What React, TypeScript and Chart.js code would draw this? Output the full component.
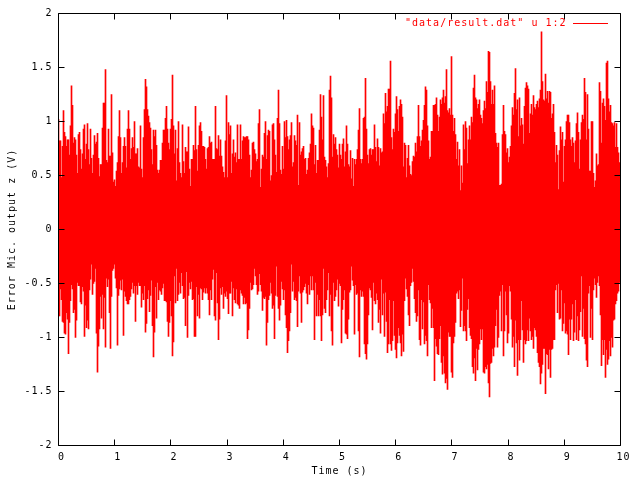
import React, { useEffect, useRef } from "react";
import { Chart, registerables } from "chart.js";

Chart.register(...registerables);

// ---- chart text ----
const SERIES_LABEL = '"data/result.dat" u 1:2';
const X_TITLE = "Time (s)";
const Y_TITLE = "Error Mic. output z (V)";

// ---- axes ----
const T_START = 0;
const T_END = 10;
const X_TICK_STEP = 1;
const Y_MIN = -2;
const Y_MAX = 2;
const Y_TICK_STEP = 0.5;

// ---- signal: per-column maximum (V), left to right ----
const UPPER = [
  1.02, 0.82, 0.82, 0.48, 0.77,
  1.10, 0.90, 0.86, 0.77, 0.83, 0.83, 0.69, 0.96, 1.33, 1.15,
  0.80, 0.85, 0.83, 0.69, 0.52, 0.88, 0.90, 0.74, 0.56, 0.70,
  0.93, 0.97, 0.65, 0.79, 0.98, 0.74, 0.60, 0.93, 0.66, 0.52,
  0.69, 0.87, 0.79, 0.81, 0.89, 0.66, 0.49, 0.60, 0.60, 0.94,
  1.17, 1.17, 1.48, 0.64, 0.62, 0.93, 0.68, 0.68, 1.25, 0.71,
  0.44, 0.46, 0.40, 0.54, 0.62, 0.86, 1.10, 0.85, 0.52, 0.62,
  0.77, 0.85, 0.77, 0.57, 0.93, 1.10, 0.93, 0.65, 0.75, 0.85,
  0.76, 1.00, 0.70, 0.70, 0.75, 0.58, 0.57, 0.96, 0.56, 0.48,
  0.85, 1.11, 1.39, 1.32, 1.11, 1.05, 0.99, 0.94, 0.74, 0.60,
  0.92, 0.86, 0.92, 0.78, 0.55, 0.52, 0.55, 0.64, 0.64, 0.80,
  0.92, 0.92, 1.03, 1.14, 0.93, 0.80, 0.74, 0.93, 1.02, 1.43,
  0.96, 0.70, 0.92, 0.45, 0.75, 1.00, 0.62, 0.52, 0.48, 0.97,
  0.63, 0.52, 0.76, 0.72, 0.72, 0.95, 0.56, 0.40, 0.65, 0.65,
  0.78, 0.73, 1.14, 0.74, 0.54, 0.78, 0.96, 0.99, 0.91, 0.77,
  0.77, 0.76, 0.65, 0.56, 0.75, 0.76, 0.86, 0.80, 0.81, 0.65,
  0.65, 0.65, 1.14, 0.75, 0.74, 0.87, 0.68, 0.83, 0.68, 0.58,
  0.53, 0.48, 0.82, 1.24, 0.48, 0.99, 0.88, 0.96, 0.52, 0.70,
  0.83, 0.67, 0.71, 0.62, 0.97, 0.65, 0.65, 0.97, 0.65, 0.82,
  0.86, 0.85, 0.85,
  0.86, 0.86, 0.83, 0.69, 0.48, 0.55, 0.80, 0.81, 0.74, 0.70,
  0.63, 0.65, 0.98, 1.11, 0.39, 0.56, 0.69, 0.67, 0.89, 1.00,
  0.65, 0.87, 0.92, 0.91, 0.45, 0.50, 0.97, 0.98, 0.83, 0.69,
  0.53, 1.03, 1.29, 0.98, 0.55, 0.51, 0.77, 0.56, 1.00, 0.85,
  1.01, 0.86, 0.74, 0.83, 0.87, 0.99, 0.58, 0.62, 0.87, 0.82,
  0.78, 1.06, 0.41, 0.99, 0.69, 0.72, 0.75, 0.77, 0.65, 0.66,
  0.51, 0.55, 0.66, 0.71, 0.79, 1.07, 0.96, 0.94, 0.60, 0.78,
  0.52, 0.64, 0.64, 0.92, 1.25, 1.04, 0.83, 1.24, 0.67, 0.64,
  0.58, 0.48, 0.61, 1.29, 1.42, 1.22, 0.67, 0.88, 0.79, 0.85,
  0.74, 0.69, 0.57, 0.79, 0.69, 0.65, 0.79, 0.84, 0.58, 0.72,
  0.96, 0.79, 0.60, 0.58, 0.73, 0.47, 0.66, 0.40, 0.65, 0.60,
  0.65, 0.74, 0.92, 1.12, 0.65, 0.61, 0.65, 1.03, 1.04, 1.40,
  0.93, 0.69, 0.61, 0.74, 0.75, 0.69, 0.74, 0.74, 0.97, 0.76,
  0.63, 0.84, 0.76, 0.59, 0.75, 0.71, 0.72, 1.07, 0.98, 1.26,
  1.09, 1.14, 1.30, 1.30, 1.56, 0.85, 0.74, 0.93, 0.90, 1.07,
  1.23, 1.11, 0.91, 1.14, 1.20, 1.16, 1.04, 0.58, 0.80, 0.78,
  0.48, 0.66, 0.78, 0.59, 0.51, 0.50, 0.63, 0.68, 0.67, 0.80,
  0.72, 0.86, 1.15, 0.86, 0.77, 0.82, 0.92, 1.01, 1.15, 1.32,
  1.29, 0.96, 0.82, 0.65, 0.67, 0.91, 0.91, 1.15,
  1.15, 1.16, 1.22, 1.06, 0.91, 1.04, 1.20, 1.16, 1.22, 1.29,
  1.17, 1.23, 1.48, 1.10, 1.08, 1.12, 1.06, 1.60, 1.06, 0.91,
  1.03, 0.88, 0.65, 0.81, 0.59, 0.74, 0.36, 0.59, 0.43, 0.97,
  0.74, 1.00, 0.94, 0.61, 0.83, 0.96, 0.83, 1.04, 0.99, 1.31,
  1.43, 1.22, 1.20, 1.12, 1.16, 1.20, 1.06, 1.03, 0.98, 1.10,
  1.19, 1.12, 1.37, 1.27, 1.65, 1.64, 1.37, 1.16, 1.29, 1.16,
  1.33, 0.89, 0.80, 0.76, 0.80, 0.41, 0.41, 0.42, 0.88, 1.15,
  0.91, 0.88, 0.71, 0.75, 0.62, 0.67, 0.77, 0.96, 1.13, 1.06,
  1.26, 1.49, 1.11, 1.20, 0.86, 1.22, 0.96, 1.03, 0.97, 0.79,
  1.14, 1.31, 1.36, 1.33, 1.30, 0.89, 1.07, 1.16, 1.06, 1.24,
  1.13, 1.11, 1.16, 1.19, 1.13, 1.21, 1.29, 1.83, 1.37, 1.20,
  1.19, 1.44, 1.21, 1.28, 1.17, 1.28, 1.27, 1.03, 1.07, 1.16,
  0.90, 0.62, 0.78, 0.69, 0.37, 0.73, 0.95, 0.83, 0.90, 0.44,
  0.77, 0.83, 1.00, 1.06, 1.06, 0.99, 0.83, 0.77, 0.85, 0.80,
  0.62, 0.82, 0.98, 1.08, 0.90, 0.56, 0.83, 0.99, 1.06, 1.02,
  1.40, 1.27, 0.83, 1.25, 0.93, 0.54, 0.54, 1.00, 1.00, 0.52,
  0.39, 0.45, 0.70, 0.59, 0.60, 1.36, 1.28, 0.80, 1.17, 1.21,
  1.14, 1.01, 1.54, 1.56, 1.21, 1.09, 1.15, 0.99, 0.98, 0.96,
  0.99, 0.76, 0.98, 0.76, 0.71, 0.62,
];

// ---- signal: per-column minimum (V), left to right ----
const LOWER = [
  -0.80, -0.80, -0.55, -0.65, -0.85, -0.86, -0.96, -0.97, -0.77, -0.83,
  -1.15, -0.86, -0.66, -0.51, -0.55, -0.77, -0.74, -1.00, -0.84, -0.49,
  -0.52, -0.52, -0.67, -0.69, -0.53, -0.57, -0.99, -0.70, -0.91, -0.84,
  -0.92, -0.56, -0.46, -0.32, -0.60, -0.50, -0.48, -0.36, -0.96, -1.32,
  -1.08, -0.92, -0.62, -0.82, -0.60, -0.92, -0.63, -1.09, -0.45, -0.53,
  -0.46, -0.77, -1.10, -0.62, -0.38, -0.36, -0.32, -0.45, -0.54, -1.07,
  -0.61, -0.55, -0.47, -0.56, -0.46, -0.98, -0.57, -0.62, -0.66, -0.69,
  -0.69, -0.65, -0.62, -0.55, -0.49, -0.59, -0.52, -0.85, -0.52, -0.60,
  -0.49, -0.52, -0.52, -0.72, -0.59, -0.65, -0.52, -0.95, -0.87, -0.64,
  -0.56, -0.76, -0.61, -0.47, -0.89, -1.18, -0.95, -0.53, -0.82, -0.49,
  -0.65, -0.56, -0.57, -0.60, -0.54, -0.50, -0.66, -0.66, -0.67, -0.85,
  -0.99, -0.86, -0.66, -0.80, -1.17, -1.04, -0.43, -0.68, -0.36, -0.66,
  -0.60, -0.49, -0.59, -0.40, -0.52, -0.64, -0.63, -0.89, -0.39, -1.00,
  -0.61, -0.49, -0.55, -0.48, -0.65, -0.64, -0.99, -0.99, -0.53, -0.80,
  -0.60, -0.82, -0.54, -0.55, -0.65, -0.58, -0.54, -0.59, -0.54, -0.59,
  -0.65, -0.79, -0.56, -0.65, -0.46, -0.37, -0.80, -0.84, -0.40, -0.68,
  -1.02, -0.83, -0.54, -0.60, -0.53, -0.73, -0.59, -0.62, -0.57, -0.64,
  -0.78, -0.59, -0.59, -0.48, -0.80, -0.54, -0.65, -0.68, -0.55, -0.69,
  -0.70, -0.73, -0.56, -0.59, -0.61, -0.69, -0.63, -0.69,
  -0.68, -1.01, -0.93, -0.73, -0.49, -0.56, -0.55, -0.51, -0.36, -0.43,
  -0.51, -0.60, -0.57, -0.41, -0.51, -0.57, -0.75, -0.63, -0.64, -0.62,
  -1.07, -0.86, -0.65, -0.61, -0.49, -0.59, -0.73, -0.70, -1.01, -0.61,
  -0.34, -0.62, -0.73, -0.84, -0.70, -0.48, -0.55, -0.65, -0.56, -0.79,
  -0.91, -1.14, -1.03, -0.94, -0.77, -0.32, -0.57, -0.48, -0.65, -0.63,
  -0.66, -0.90, -0.57, -0.43, -0.59, -0.86, -0.58, -0.56, -0.53, -0.50,
  -0.59, -0.69, -0.51, -0.60, -0.43, -0.56, -0.43, -0.56, -1.02, -0.49,
  -0.80, -0.60, -0.80, -0.65, -0.80, -1.03, -0.79, -0.36, -0.73, -0.77,
  -0.65, -0.56, -0.40, -0.80, -0.60, -0.94, -1.07, -0.49, -0.66, -0.62,
  -0.56, -0.46, -0.71, -0.50, -0.52, -1.05, -0.74, -0.65, -0.56, -0.96,
  -0.97, -1.01, -0.83, -0.58, -0.56, -0.34, -0.47, -0.52, -0.97, -0.51,
  -0.60, -0.59, -0.94, -1.18, -0.56, -0.62, -0.57, -0.62, -1.06, -1.15,
  -1.20, -1.06, -0.79, -0.54, -0.56, -0.63, -0.93, -0.49, -0.66, -0.69,
  -0.59, -0.65, -0.86, -0.74, -0.96, -0.46, -0.79, -0.59, -0.99, -0.58,
  -0.85, -1.14, -1.06, -0.65, -1.06, -1.12, -1.03, -0.66, -0.98, -1.11,
  -1.19, -1.05, -0.91, -0.98, -1.05, -1.17, -0.97, -1.13, -0.66, -0.45,
  -0.55, -0.62, -0.79, -0.89, -0.52, -0.49, -0.36, -0.48, -0.64, -0.77,
  -0.85, -0.80, -0.56, -1.02, -1.07, -0.65, -0.92, -0.67, -1.06, -0.98,
  -1.03, -1.17, -0.51, -0.65, -0.68, -0.91, -0.73, -0.91,
  -1.40, -1.01, -1.08, -1.15, -1.16, -1.01, -0.89, -1.23, -1.34, -1.17,
  -1.33, -1.42, -1.38, -1.48, -0.95, -0.99, -0.99, -1.32, -1.37, -1.05,
  -0.99, -0.86, -0.59, -0.57, -0.64, -0.56, -0.90, -0.75, -0.45, -0.94,
  -0.89, -0.94, -1.03, -0.74, -0.64, -0.91, -0.98, -1.01, -1.27, -1.33,
  -1.19, -1.40, -1.10, -1.30, -1.11, -1.06, -0.92, -1.02, -0.92, -1.32,
  -1.33, -1.27, -1.29, -1.25, -1.42, -1.55, -1.24, -1.23, -1.10, -1.17,
  -1.09, -0.89, -0.74, -1.09, -1.00, -0.61, -0.57, -0.94, -0.51, -1.17,
  -0.94, -0.57, -0.79, -1.05, -0.96, -0.52, -0.57, -0.83, -1.09, -0.99,
  -1.27, -0.84, -1.05, -1.35, -1.02, -1.21, -1.02, -0.66, -0.93, -1.23,
  -1.02, -1.06, -1.03, -0.93, -1.03, -0.82, -0.94, -1.02, -0.99, -1.10,
  -0.91, -0.93, -0.99, -1.14, -1.23, -1.27, -1.43, -1.33, -1.25, -1.10,
  -1.10, -1.52, -1.15, -1.16, -1.29, -1.11, -1.37, -1.11, -1.10, -1.02,
  -1.02, -0.56, -0.51, -0.77, -0.50, -0.83, -0.82, -0.56, -0.94, -0.87,
  -0.68, -0.96, -0.94, -0.97, -1.16, -0.83, -1.02, -0.83, -0.69, -1.03,
  -0.95, -0.65, -1.02, -0.80, -1.03, -0.93, -0.76, -0.43, -0.99, -0.73,
  -1.01, -1.06, -1.21, -1.27, -0.59, -0.52, -1.00, -0.73, -1.02, -0.56,
  -0.45, -0.51, -0.63, -0.49, -0.43, -0.52, -0.79, -1.26, -1.02, -1.16,
  -1.02, -1.37, -1.11, -1.25, -1.20, -1.03, -1.17, -1.00, -1.09, -0.84,
  -0.83, -0.69, -0.66, -0.59, -0.57, -0.49,
];

const FONT_FAMILY = '"DejaVu Sans Mono", monospace';
const RED = "#ff0000";

export default function App() {
  const ref = useRef<HTMLCanvasElement>(null);

  useEffect(() => {
    const canvas = ref.current;
    if (!canvas) return;
    const n = Math.min(UPPER.length, LOWER.length);
    const colT = (T_END - T_START) / n;
    const points = [];
    for (let i = 0; i < n; i++) {
      points.push({ x: T_START + i * colT, y: [LOWER[i], UPPER[i]] });
    }

    const framePlugin = {
      id: "gnuplotFrame",
      beforeDraw(chart: any) {
        (chart.ctx as any).letterSpacing = "1px";
      },
      afterDatasetsDraw(chart: any) {
        const { ctx, chartArea: a, scales } = chart;
        const crisp = (v: number) => Math.floor(v) + 0.5;
        const L = crisp(a.left), R = crisp(a.right), T = crisp(a.top), B = crisp(a.bottom);
        const len = 6;
        ctx.save();
        ctx.strokeStyle = "#000";
        ctx.lineWidth = 1;
        ctx.beginPath();
        ctx.rect(L, T, R - L, B - T);
        scales.x.ticks.forEach((t: any) => {
          const p = crisp(scales.x.getPixelForValue(t.value));
          ctx.moveTo(p, B); ctx.lineTo(p, B - len);
          ctx.moveTo(p, T); ctx.lineTo(p, T + len);
        });
        scales.y.ticks.forEach((t: any) => {
          const p = crisp(scales.y.getPixelForValue(t.value));
          ctx.moveTo(L, p); ctx.lineTo(L + len, p);
          ctx.moveTo(R, p); ctx.lineTo(R - len, p);
        });
        ctx.stroke();

        // key (gnuplot style: text, then line sample)
        const ky = crisp(a.top + 10);
        ctx.font = `10px ${FONT_FAMILY}`;
        (ctx as any).letterSpacing = "1px";
        ctx.fillStyle = RED;
        ctx.textAlign = "right";
        ctx.textBaseline = "middle";
        ctx.fillText(chart.data.datasets[0].label, a.right - 54, ky);
        ctx.strokeStyle = RED;
        ctx.beginPath();
        ctx.moveTo(Math.round(a.right - 47.5), ky);
        ctx.lineTo(Math.round(a.right - 13), ky);
        ctx.stroke();
        ctx.restore();
      },
    };

    const chart = new Chart(canvas, {
      type: "bar",
      data: {
        datasets: [
          {
            label: SERIES_LABEL,
            data: points as any,
            backgroundColor: RED,
            borderWidth: 0,
            barThickness: 1,
          },
        ],
      },
      options: {
        responsive: false,
        devicePixelRatio: 1,
        animation: false,
        events: [],
        layout: { padding: { left: 0, right: 19.5, top: 13.5, bottom: 0 } },
        plugins: { legend: { display: false }, tooltip: { enabled: false } },
        scales: {
          x: {
            type: "linear",
            min: T_START,
            max: T_END,
            offset: false,
            grid: { display: false, drawTicks: false },
            border: { display: false },
            ticks: {
              stepSize: X_TICK_STEP,
              color: "#000",
              font: { family: FONT_FAMILY, size: 10 },
              padding: 5.5,
              labelOffset: 3,
              autoSkip: false,
              maxRotation: 0,
              callback: (v: any) => String(v),
            },
            title: {
              display: true,
              text: X_TITLE,
              color: "#000",
              font: { family: FONT_FAMILY, size: 10 },
              padding: { top: 0, bottom: 3 },
            },
            afterFit: (s: any) => { s.height = 34.5; },
          },
          y: {
            type: "linear",
            min: Y_MIN,
            max: Y_MAX,
            grid: { display: false, drawTicks: false },
            border: { display: false },
            ticks: {
              stepSize: Y_TICK_STEP,
              color: "#000",
              font: { family: FONT_FAMILY, size: 10 },
              padding: 6,
              autoSkip: false,
              callback: (v: any) => String(v),
            },
            title: {
              display: true,
              text: Y_TITLE,
              color: "#000",
              font: { family: FONT_FAMILY, size: 10 },
              padding: { top: 6, bottom: 0 },
            },
            afterFit: (s: any) => { s.width = 58.5; },
          },
        },
      },
      plugins: [framePlugin],
    });

    return () => chart.destroy();
  }, []);

  return (
    <div style={{ position: "absolute", left: 0, top: 0, width: 640, height: 480, background: "#fff" }}>
      <canvas ref={ref} width={640} height={480} style={{ display: "block", width: 640, height: 480 }} />
    </div>
  );
}
